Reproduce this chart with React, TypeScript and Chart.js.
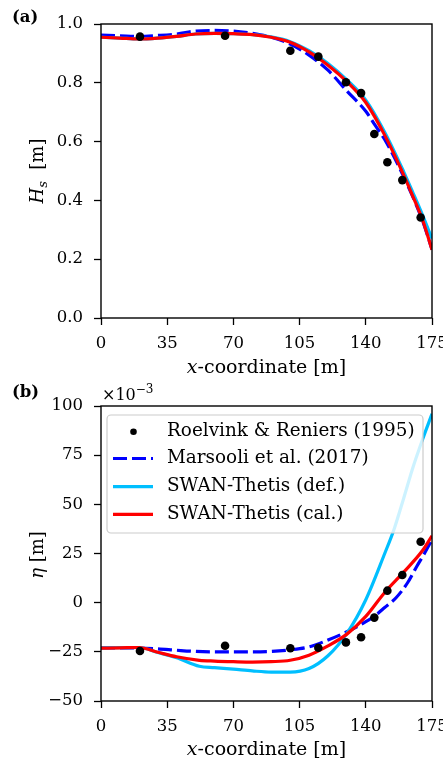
import React, { useEffect, useRef } from 'react';
import { Chart, registerables } from 'chart.js';
Chart.register(...registerables);

// ---------- data ----------
const obsX = [20.6, 65.6, 100.1, 114.9, 129.5, 137.5, 144.5, 151.4, 159.3, 169.0];
const obsHs = [0.957, 0.96, 0.909, 0.889, 0.802, 0.765, 0.626, 0.53, 0.469, 0.342];
const obsEta = [-24.6, -21.9, -23.2, -22.9, -20.2, -17.6, -7.6, 6.1, 14.1, 31.0];

const calHsX = [0, 10, 20, 30, 40, 50, 60, 70, 80, 90, 100, 110, 120, 130, 140, 150, 160, 165, 170, 175];
const calHs = [0.955, 0.952, 0.949, 0.952, 0.958, 0.966, 0.968, 0.967, 0.964, 0.955, 0.938, 0.905, 0.86, 0.804, 0.733, 0.622, 0.487, 0.412, 0.334, 0.232];
const defHsX = [0, 10, 20, 30, 40, 50, 60, 70, 80, 90, 100, 110, 120, 130, 140, 150, 160, 165, 170, 175];
const defHs = [0.955, 0.952, 0.949, 0.952, 0.958, 0.966, 0.968, 0.967, 0.964, 0.956, 0.94, 0.909, 0.866, 0.81, 0.741, 0.632, 0.498, 0.425, 0.35, 0.27];
const marsHsX = [0, 10, 20, 30, 40, 50, 60, 70, 80, 90, 100, 110, 120, 130, 140, 145, 150, 160, 170, 175];
const marsHs = [0.962, 0.96, 0.958, 0.961, 0.966, 0.976, 0.978, 0.976, 0.968, 0.955, 0.932, 0.894, 0.843, 0.772, 0.703, 0.655, 0.607, 0.481, 0.331, 0.233];

const calEtaX = [0, 10, 20, 30, 40, 52, 60, 70, 80, 90, 100, 110, 120, 130, 140, 150, 160, 170, 175];
const calEta = [-23.1, -23.0, -22.8, -25.2, -27.5, -29.3, -29.7, -30.0, -30.2, -30.0, -29.3, -26.7, -22.0, -16.0, -7.0, 5.2, 15.5, 26.5, 34.0];
const defEtaX = [0, 10, 20, 30, 40, 52, 60, 70, 80, 90, 100, 110, 120, 130, 140, 150, 155, 160, 165, 170, 175];
const defEta = [-23.0, -22.9, -22.8, -25.3, -28.0, -32.3, -33.0, -33.8, -34.7, -35.3, -35.3, -33.5, -27.0, -15.6, 1.5, 25.0, 37.5, 53.0, 69.0, 83.0, 96.0];
const marsEtaX = [0, 10, 20, 30, 40, 50, 60, 70, 80, 90, 100, 110, 120, 130, 140, 145, 150, 156, 162, 167, 171, 175];
const marsEta = [-23.0, -23.0, -23.1, -23.5, -24.2, -24.8, -25.0, -25.0, -25.0, -24.8, -24.0, -22.5, -19.0, -14.8, -9.7, -6.5, -2.5, 2.5, 10.0, 18.5, 25.0, 32.0];

const xTicks = [0, 35, 70, 105, 140, 175];
const hsTicks = [0, 0.2, 0.4, 0.6, 0.8, 1.0];
const etaTicks = [-50, -25, 0, 25, 50, 75, 100];
const legendLabels = ['Roelvink & Reniers (1995)', 'Marsooli et al. (2017)', 'SWAN-Thetis (def.)', 'SWAN-Thetis (cal.)'];

// ---------- styles ----------
const FONT = "'DejaVu Serif', serif";
const TICK = 16.5;
const LABEL = 19;
const LEG = 18.4;
const RED = '#ff0000';
const CYAN = '#00bfff';
const BLUE = '#0000ff';

function series(xs: number[], ys: number[]) {
  return xs.map((x, i) => ({ x, y: ys[i] }));
}

type Seg = { t: string; font: string; dy?: number };
function drawRich(ctx: CanvasRenderingContext2D, segs: Seg[], cx: number, baseY: number, align: 'center' | 'left' = 'center') {
  let total = 0;
  for (const s of segs) { ctx.font = s.font; total += ctx.measureText(s.t).width; }
  let x = align === 'center' ? cx - total / 2 : cx;
  ctx.textAlign = 'left';
  ctx.textBaseline = 'alphabetic';
  for (const s of segs) {
    ctx.font = s.font;
    ctx.fillText(s.t, x, baseY + (s.dy || 0));
    x += ctx.measureText(s.t).width;
  }
}

function makeConfig(panel: 'a' | 'b'): any {
  const isA = panel === 'a';
  const datasets: any[] = [
    {
      label: legendLabels[0], data: series(obsX, isA ? obsHs : obsEta), showLine: false,
      pointRadius: 4.3, pointBackgroundColor: '#000', pointBorderWidth: 0, borderColor: '#000', backgroundColor: '#000',
    },
    {
      label: legendLabels[3], data: isA ? series(calHsX, calHs) : series(calEtaX, calEta), showLine: true,
      borderColor: RED, backgroundColor: RED, borderWidth: 3.2, pointRadius: 0, cubicInterpolationMode: 'monotone',
    },
    {
      label: legendLabels[2], data: isA ? series(defHsX, defHs) : series(defEtaX, defEta), showLine: true,
      borderColor: CYAN, backgroundColor: CYAN, borderWidth: 3.2, pointRadius: 0, cubicInterpolationMode: 'monotone',
    },
    {
      label: legendLabels[1], data: isA ? series(marsHsX, marsHs) : series(marsEtaX, marsEta), showLine: true,
      borderColor: BLUE, backgroundColor: BLUE, borderWidth: 3.2, borderDash: [14, 5], pointRadius: 0, cubicInterpolationMode: 'monotone',
    },
  ];

  const tickFont = { family: FONT, size: TICK };
  const grid = { display: true, drawOnChartArea: false, drawTicks: true, tickLength: 7, tickWidth: 1.3, tickColor: '#000' };

  const decor = {
    id: 'decor',
    afterDraw(chart: any) {
      const ctx: CanvasRenderingContext2D = chart.ctx;
      const ca = chart.chartArea;
      ctx.save();
      // frame
      ctx.strokeStyle = '#000';
      ctx.lineWidth = 1.4;
      ctx.strokeRect(ca.left, ca.top, ca.right - ca.left, ca.bottom - ca.top);
      ctx.fillStyle = '#000';
      // panel label
      drawRich(ctx, [{ t: isA ? '(a)' : '(b)', font: `bold 16.5px ${FONT}` }], 12, isA ? 22 : 17, 'left');
      // x title
      drawRich(ctx, [
        { t: 'x', font: `italic ${LABEL}px ${FONT}` },
        { t: '-coordinate [m]', font: `${LABEL}px ${FONT}` },
      ], (ca.left + ca.right) / 2, isA ? 373 : 375);
      // y title
      ctx.save();
      ctx.translate(43, isA ? 171 : 175);
      ctx.rotate(-Math.PI / 2);
      if (isA) {
        drawRich(ctx, [
          { t: 'H', font: `italic ${LABEL - 1}px ${FONT}` },
          { t: 's', font: `italic 13px ${FONT}`, dy: 4 },
          { t: '  [m]', font: `${LABEL - 1}px ${FONT}` },
        ], 0, 0);
      } else {
        drawRich(ctx, [
          { t: 'η', font: `italic ${LABEL - 1}px ${FONT}` },
          { t: ' [m]', font: `${LABEL - 1}px ${FONT}` },
        ], 0, 0);
      }
      ctx.restore();
      if (!isA) {
        // offset text
        drawRich(ctx, [
          { t: '×10', font: `16px ${FONT}` },
          { t: '−3', font: `12px ${FONT}`, dy: -7 },
        ], 102, 20, 'left');
        // legend
        const lx = 107, ly = 35, lw = 316, lh = 118;
        ctx.beginPath();
        (ctx as any).roundRect(lx, ly, lw, lh, 4);
        ctx.fillStyle = 'rgba(255,255,255,0.8)';
        ctx.fill();
        ctx.strokeStyle = '#cccccc';
        ctx.lineWidth = 1.2;
        ctx.stroke();
        const order = [0, 3, 2, 1];
        const rows = [51.7, 78.5, 106.7, 134.3];
        order.forEach((di, k) => {
          const ds = chart.data.datasets[di];
          const y = rows[k];
          if (ds.showLine === false) {
            ctx.beginPath();
            ctx.arc(133.5, y, 3.3, 0, Math.PI * 2);
            ctx.fillStyle = '#000';
            ctx.fill();
          } else {
            ctx.beginPath();
            ctx.setLineDash(ds.borderDash || []);
            ctx.strokeStyle = ds.borderColor;
            ctx.lineWidth = 3.2;
            ctx.moveTo(113, y);
            ctx.lineTo(153, y);
            ctx.stroke();
            ctx.setLineDash([]);
          }
          ctx.fillStyle = '#000';
          ctx.font = `${LEG}px ${FONT}`;
          ctx.textAlign = 'left';
          ctx.textBaseline = 'middle';
          ctx.fillText(ds.label, 167, y);
        });
      }
      ctx.restore();
    },
  };

  return {
    type: 'scatter',
    data: { datasets },
    plugins: [decor],
    options: {
      responsive: false,
      animation: false,
      devicePixelRatio: 1,
      layout: { padding: { top: isA ? 24 : 26, right: 11, left: 0, bottom: 0 } },
      plugins: { legend: { display: false }, tooltip: { enabled: false } },
      scales: {
        x: {
          type: 'linear', min: 0, max: 175,
          afterBuildTicks: (s: any) => { s.ticks = xTicks.map((v) => ({ value: v })); },
          afterFit: (s: any) => { s.height = isA ? 62 : 63; s.paddingLeft = 0; s.paddingRight = 0; },
          ticks: { font: tickFont, color: '#000', padding: 9, maxRotation: 0, autoSkip: false },
          grid, border: { display: false },
        },
        y: {
          type: 'linear', min: isA ? 0 : -50, max: isA ? 1 : 100,
          afterBuildTicks: (s: any) => { s.ticks = (isA ? hsTicks : etaTicks).map((v) => ({ value: v })); },
          afterFit: (s: any) => { s.width = 101; s.paddingTop = 0; s.paddingBottom = 0; },
          ticks: {
            font: tickFont, color: '#000', padding: 11, autoSkip: false,
            callback: (v: any) => isA ? Number(v).toFixed(1) : (v < 0 ? '−' + Math.abs(v) : String(v)),
          },
          grid, border: { display: false },
        },
      },
    },
  };
}

export default function App() {
  const refA = useRef<HTMLCanvasElement>(null);
  const refB = useRef<HTMLCanvasElement>(null);
  useEffect(() => {
    const a = new Chart(refA.current as HTMLCanvasElement, makeConfig('a'));
    const b = new Chart(refB.current as HTMLCanvasElement, makeConfig('b'));
    return () => { a.destroy(); b.destroy(); };
  }, []);
  return (
    <div style={{ position: 'absolute', left: 0, top: 0, width: 443, height: 764, background: '#fff' }}>
      <canvas ref={refA} width={443} height={380} style={{ display: 'block', width: 443, height: 380 }} />
      <canvas ref={refB} width={443} height={384} style={{ display: 'block', width: 443, height: 384 }} />
    </div>
  );
}
